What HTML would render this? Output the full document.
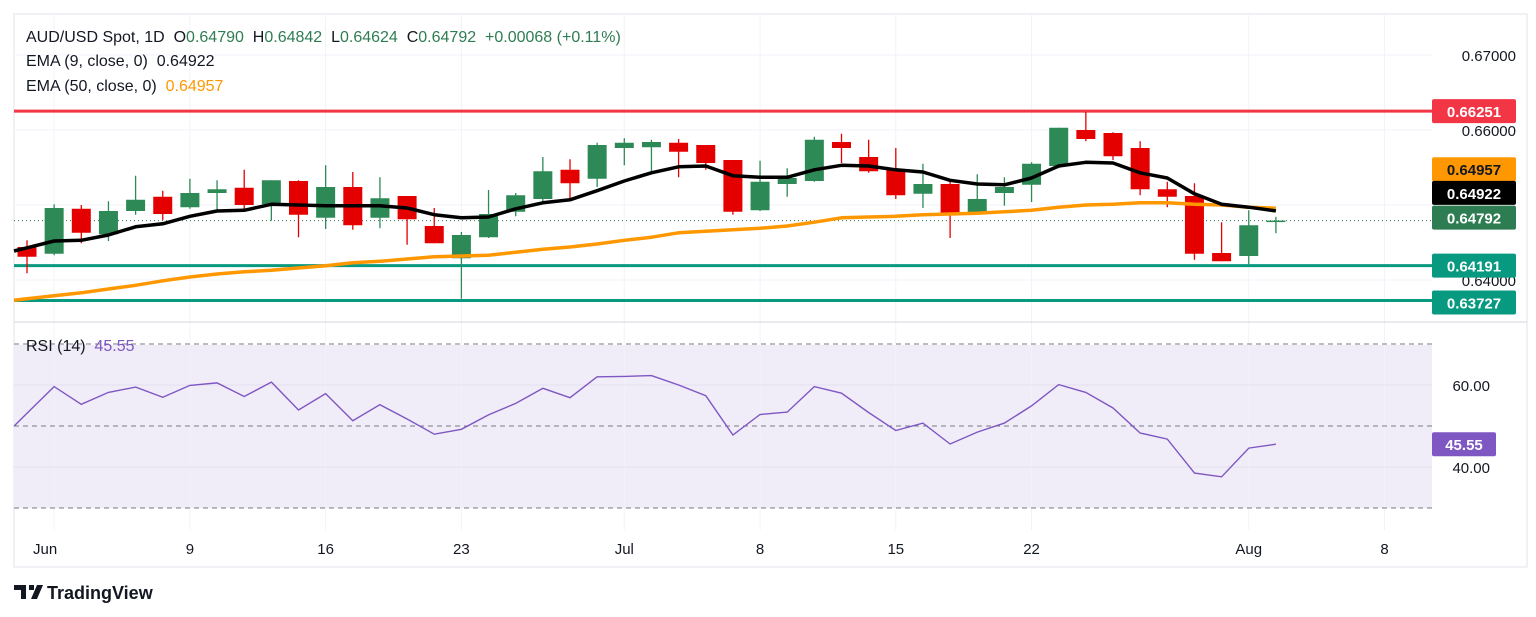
<!DOCTYPE html>
<html><head><meta charset="utf-8"><style>
html,body{margin:0;padding:0;background:#fff;width:1536px;height:617px;overflow:hidden}
svg{display:block;font-family:"Liberation Sans",sans-serif}
text{white-space:pre}
</style></head><body>
<svg id="chart" width="1536" height="617" viewBox="0 0 1536 617">
<rect x="14" y="14" width="1513" height="553" fill="#fff" stroke="#e0e3eb"/>
<rect x="14" y="345" width="1418" height="163" fill="#f0ecf8"/>
<g id="grid"></g>
<g id="levels"></g>
<g id="candles"></g>
<g id="emas"></g>
<g id="rsi"></g>
<g id="labels"></g>
<line x1="14" y1="322" x2="1527" y2="322" stroke="#d1d4dc"/>
<g font-size="16">
<text x="26" y="42" fill="#131722">AUD/USD Spot, 1D  O<tspan fill="#2e7d52">0.64790</tspan>  H<tspan fill="#2e7d52">0.64842</tspan>  L<tspan fill="#2e7d52">0.64624</tspan>  C<tspan fill="#2e7d52">0.64792</tspan>  <tspan fill="#2e7d52">+0.00068 (+0.11%)</tspan></text>
<text x="26" y="66" fill="#131722">EMA (9, close, 0)  0.64922</text>
<text x="26" y="91" fill="#131722">EMA (50, close, 0)  <tspan fill="#ff9800">0.64957</tspan></text>
<text x="26" y="351" fill="#131722">RSI (14)  <tspan fill="#7e57c2">45.55</tspan></text>
</g>
<g>
<path d="M14 585h12v14h-5v-9h-7z M29 585h5v5h-5z M37 585h6l-6 14h-6z" fill="#131722"/>
<text x="47" y="599" font-size="18" font-weight="bold" fill="#131722">TradingView</text>
</g>
</svg>
<script>
const opens  = [0.6444,0.6435,0.6495,0.6461,0.6492,0.6511,0.6497,0.6516,0.6523,0.6501,0.6532,0.6483,0.6524,0.6483,0.6512,0.6472,0.6429,0.6457,0.6491,0.6508,0.6547,0.6535,0.6576,0.6577,0.6583,0.6580,0.6560,0.6493,0.6528,0.6532,0.6584,0.6564,0.6547,0.6515,0.6528,0.6488,0.6516,0.6527,0.6552,0.6600,0.6596,0.6576,0.6521,0.6512,0.6436,0.6432,0.64790];
const highs  = [0.6453,0.6501,0.6500,0.6505,0.6539,0.6519,0.6535,0.6533,0.6547,0.6533,0.6533,0.6553,0.6544,0.6537,0.6512,0.6496,0.6464,0.6520,0.6516,0.6564,0.6561,0.6583,0.6589,0.6587,0.6588,0.6580,0.6560,0.6559,0.6549,0.6591,0.6595,0.6587,0.6576,0.6555,0.6532,0.6541,0.6537,0.6557,0.6603,0.6624,0.6597,0.6585,0.6531,0.6529,0.6477,0.6493,0.64842];
const lows   = [0.6409,0.6433,0.6449,0.6452,0.6487,0.6480,0.6495,0.6491,0.6495,0.6479,0.6457,0.6468,0.6467,0.6469,0.6447,0.6449,0.6375,0.6456,0.6485,0.6505,0.6509,0.6524,0.6553,0.6544,0.6537,0.6547,0.6487,0.6492,0.6511,0.6531,0.6556,0.6543,0.6508,0.6496,0.6456,0.6487,0.6499,0.6504,0.6549,0.6585,0.6560,0.6513,0.6497,0.6427,0.6425,0.6421,0.64624];
const closes = [0.6431,0.6496,0.6463,0.6492,0.6507,0.6488,0.6516,0.6521,0.6500,0.6533,0.6487,0.6524,0.6473,0.6509,0.6481,0.6449,0.6460,0.6488,0.6513,0.6545,0.6529,0.6580,0.6583,0.6584,0.6571,0.6556,0.6491,0.6531,0.6536,0.6587,0.6576,0.6545,0.6513,0.6528,0.6488,0.6508,0.6524,0.6555,0.6603,0.6588,0.6565,0.6521,0.6511,0.6435,0.6425,0.6473,0.64792];
const ema9   = [0.6443,0.6452,0.6453,0.6460,0.6471,0.6475,0.6485,0.6492,0.6493,0.6501,0.6500,0.6499,0.6499,0.6499,0.6496,0.6487,0.6483,0.6484,0.6495,0.6503,0.6507,0.6519,0.6532,0.6543,0.6551,0.6552,0.6539,0.6537,0.6537,0.6547,0.6553,0.6552,0.6547,0.6544,0.6533,0.6528,0.6527,0.6536,0.6552,0.6557,0.6556,0.6543,0.6536,0.6515,0.6501,0.6497,0.64922];
const ema50  = [0.6375,0.6379,0.6383,0.6388,0.6393,0.6399,0.6404,0.6408,0.6411,0.6413,0.6416,0.6419,0.6423,0.6425,0.6428,0.6431,0.6432,0.6433,0.6437,0.6441,0.6444,0.6448,0.6453,0.6457,0.6463,0.6465,0.6467,0.6469,0.6472,0.6477,0.6483,0.6484,0.6485,0.6487,0.6488,0.6489,0.6491,0.6493,0.6497,0.6500,0.6501,0.6503,0.6503,0.6501,0.6500,0.6497,0.64957];
const rsiVals= [53.1,59.6,55.3,58.2,59.5,57.0,59.9,60.5,57.2,60.7,53.9,57.9,51.3,55.2,51.7,48.0,49.2,52.7,55.5,59.2,56.9,62.0,62.1,62.3,60.0,57.4,47.8,52.8,53.4,59.6,58.0,53.3,48.9,50.7,45.6,48.5,50.7,54.9,60.1,58.2,54.4,48.3,46.8,38.5,37.6,44.6,45.55];
const levelPrices = [0.66251,0.64191,0.63727];
const levelColors = ["#f23645","#089981","#089981"];
const priceTicks = [0.67,0.66,0.65,0.64];
const priceTickLabels = ["0.67000","0.66000","","0.64000"];
const rsiTicks = [60,40];
const rsiDashed = [70,50,30];
const dateLabels = ["Jun","9","16","23","Jul","8","15","22","Aug","8"];
const dateIdx = [1,6,11,16,22,27,32,37,45,50];

const NS="http://www.w3.org/2000/svg";
const PLOT_L=14, PLOT_R=1432;
const X=i=>27+i*27.15;
const Y=p=>130+(0.66-p)*7500;
const RY=r=>426-(r-50)*4.1;
function mk(tag,attrs,parent){const e=document.createElementNS(NS,tag);for(const k in attrs)e.setAttribute(k,attrs[k]);parent.appendChild(e);return e;}
const grid=document.getElementById('grid'),lv=document.getElementById('levels'),cg=document.getElementById('candles'),eg=document.getElementById('emas'),rg=document.getElementById('rsi'),lb=document.getElementById('labels');

dateIdx.forEach((d,k)=>{
  const l=mk('line',{x1:X(d),x2:X(d),y1:15,y2:530,stroke:'#f0f3fa'},grid);
  
  
  const t=mk('text',{x:X(d)-(k===0?9:0),y:554,'font-size':15,'text-anchor':'middle',fill:'#131722'},lb);
  t.textContent=dateLabels[k];
  
  
});
priceTicks.forEach((p,k)=>{
  const l=mk('line',{x1:PLOT_L,x2:PLOT_R,y1:Y(p),y2:Y(p),stroke:'#f0f3fa'},grid);
  
  
  if(priceTickLabels[k]){
    const t=mk('text',{x:1516,y:Y(p)+6,'font-size':15,'text-anchor':'end',fill:'#131722'},lb);
    t.textContent=priceTickLabels[k];
    
    
  }
});
rsiTicks.forEach(r=>{
  const l=mk('line',{x1:PLOT_L,x2:PLOT_R,y1:RY(r),y2:RY(r),stroke:'#e3e0ee'},grid);
  
  
  const t=mk('text',{x:1490,y:RY(r)+6,'font-size':15,'text-anchor':'end',fill:'#131722'},lb);
  t.textContent=r.toFixed(2);
  
  
});
rsiDashed.forEach(r=>{
  const l=mk('line',{x1:PLOT_L,x2:PLOT_R,y1:RY(r),y2:RY(r),stroke:'#787b86','stroke-dasharray':'5 4'},grid);
  
  
});
levelPrices.forEach((p,k)=>{
  const l=mk('line',{x1:PLOT_L,x2:PLOT_R,y1:Y(p),y2:Y(p),stroke:levelColors[k],'stroke-width':3},lv);
  
  
});
const last=closes.length-1;
const cl=mk('line',{x1:PLOT_L,x2:PLOT_R,y1:Y(closes[last]),y2:Y(closes[last]),stroke:'#2e7d52','stroke-dasharray':'1 3'},lv);



opens.forEach((o,i)=>{
  const c=closes[i],up=c>=o,col=up?'#2d8a56':'#e50000',x=X(i);
  const w=mk('line',{x1:x,x2:x,y1:Y(highs[i]),y2:Y(lows[i]),stroke:col,'stroke-width':1.3},cg);
  
  
  const top=Y(Math.max(o,c)),h=Math.max(1.5,Math.abs(Y(o)-Y(c)));
  const b=mk('rect',{x:x-9.5,y:top,width:19,height:h,fill:col},cg);
  
  
});
function path(vals,fy){
  const s0=fy(vals[0]),s1=fy(vals[1]);
  const startY=s0-(s1-s0)*(X(0)-PLOT_L)/(X(1)-X(0));
  return 'M'+PLOT_L+' '+startY.toFixed(1)+' '+vals.map((v,i)=>'L'+X(i).toFixed(1)+' '+fy(v).toFixed(1)).join(' ');
}
const e50=mk('path',{d:path(ema50,Y),fill:'none',stroke:'#ff9800','stroke-width':3.5,'stroke-linejoin':'round'},eg);


const e9=mk('path',{d:path(ema9,Y),fill:'none',stroke:'#000','stroke-width':3.5,'stroke-linejoin':'round'},eg);


const rl=mk('path',{d:path(rsiVals,RY),fill:'none',stroke:'#7e57c2','stroke-width':1.4},rg);



const boxes=[[levelPrices[0],'#f23645','#fff','0.66251'],[ema50[last],'#ff9800','#131722','0.64957'],[ema9[last],'#000','#fff','0.64922'],[closes[last],'#2e7d52','#fff','0.64792'],[levelPrices[1],'#089981','#fff','0.64191'],[levelPrices[2],'#089981','#fff','0.63727']];
const yAdj=[0,-39,-18,-3,0,2];
boxes.forEach((b,k)=>{
  const cy=Y(b[0])+yAdj[k];
  const r=mk('rect',{x:1432,y:cy-12,width:84,height:24,rx:2,fill:b[1]},lb);
  
  
  const t=mk('text',{x:1474,y:cy+6,'font-size':15,'font-weight':'bold','text-anchor':'middle',fill:b[2]},lb);
  t.textContent=b[3];
  
  
});
const rr=mk('rect',{x:1432,y:RY(rsiVals[last])-12,width:64,height:24,rx:2,fill:'#7e57c2'},lb);


const rt=mk('text',{x:1464,y:RY(rsiVals[last])+6,'font-size':15,'font-weight':'bold','text-anchor':'middle',fill:'#fff'},lb);
rt.textContent=rsiVals[last].toFixed(2);


</script>
</body></html>
